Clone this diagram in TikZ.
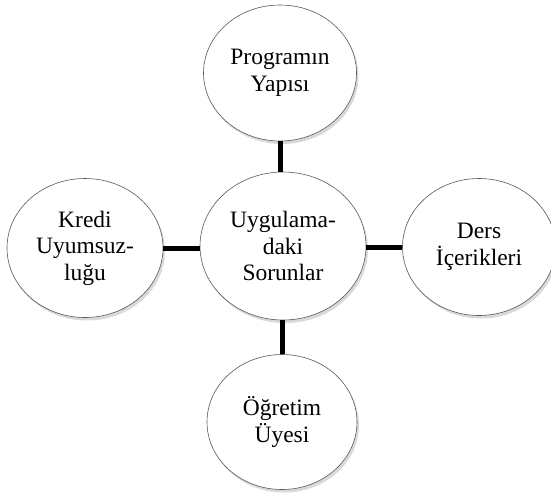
\documentclass[tikz,border=0pt]{standalone}
\usepackage{fontspec}
\setmainfont{Liberation Serif}
\usetikzlibrary{shapes.geometric,shadows}

\begin{document}
\begin{tikzpicture}[x=1pt, y=-1pt,
    konu/.style={ellipse, draw=black!65, line width=0.6pt, fill=white,
        drop shadow={shadow xshift=2pt, shadow yshift=-3pt, opacity=0.3},
        align=center, font=\fontsize{23.5}{26.5}\selectfont, inner sep=0pt},
    bag/.style={line width=5pt}]
    \useasboundingbox (0,0) rectangle (551,496);

    \node[konu, minimum width=166pt, minimum height=148pt] (sorun) at (283, 246) {Uygulama-\\daki\\Sorunlar};
    \node[konu, minimum width=153pt, minimum height=136pt] (prog) at (280, 73) {Programın\\Yapısı};
    \node[konu, minimum width=156pt, minimum height=139pt] (kredi) at (85, 248) {Kredi\\Uyumsuz-\\luğu};
    \node[konu, minimum width=153pt, minimum height=137pt] (ders) at (479, 247) {Ders\\İçerikleri};
    \node[konu, minimum width=150pt, minimum height=135pt] (ogretim) at (282, 422) {Öğretim\\Üyesi};

    \draw[bag] (prog.south) -- (sorun.north -| prog.south)
               (kredi.east) -- (sorun.west |- kredi.east)
               (ders.west) -- (sorun.east |- ders.west)
               (ogretim.north) -- (sorun.south -| ogretim.north);
\end{tikzpicture}
\end{document}
